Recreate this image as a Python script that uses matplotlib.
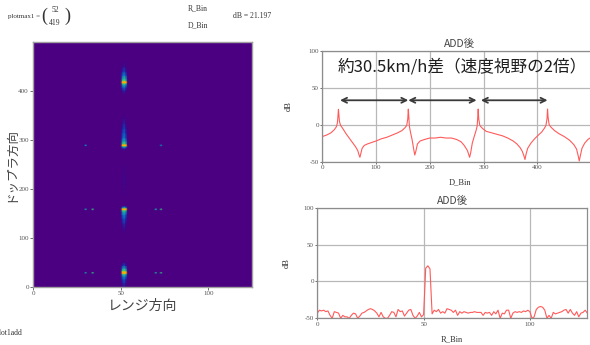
import numpy as np
import matplotlib
matplotlib.use("Agg")
import matplotlib.pyplot as plt
from matplotlib.colors import LinearSegmentedColormap

plt.rcParams['font.family'] = ['Liberation Serif', 'Noto Sans CJK JP', 'DejaVu Sans']
plt.rcParams['axes.unicode_minus'] = False

CJK = ['Noto Sans CJK JP', 'DejaVu Sans']

# ---- Doppler profile at range bin 52 (dB) ----
D_POS = [0, 8, 16, 22, 26, 28, 29, 30, 31, 32, 34, 38, 44, 50, 56, 62, 66, 68, 70, 72,
         74, 78, 84, 92, 100, 110, 120, 130, 140, 148, 154, 157, 159, 160, 161, 162, 164, 167, 170, 172,
         174, 177, 182, 190, 200, 210, 220, 230, 240, 250, 258, 264, 270, 274, 276, 279, 283, 286, 288, 289,
         290, 291, 293, 298, 305, 315, 325, 335, 345, 355, 362, 368, 372, 375, 377, 379, 382, 388, 395, 402,
         408, 413, 416, 418, 419, 420, 422, 425, 432, 440, 450, 460, 468, 473, 476, 478, 480, 483, 488, 494,
         500, 506, 511]
D_DB = [-16, -14, -11, -7, -3, 2, 10, 20.8, 12, 4, -1, -5, -12, -18, -24, -30, -35, -40, -44, -38,
        -32, -28, -26, -24, -22, -19, -17, -14, -11, -8, -4, -1, 8, 21.1, 10, -2, -10, -20, -33, -41,
        -36, -26, -22, -20, -18, -18, -17, -18, -18, -20, -23, -28, -35, -44, -38, -25, -15, -8, -2, 8,
        21.15, 8, -1, -5, -9, -11, -13, -15, -18, -22, -26, -31, -36, -42, -47, -40, -32, -25, -19, -14,
        -10, -5, -1, 8, 21.197, 10, 0, -3, -8, -12, -16, -21, -27, -33, -42, -49, -42, -32, -25, -20,
        -17, -14, -12]

# ---- Range profile at Doppler bin 419 (dB), bins 0..127 ----
R_DB = [-43, -39, -40, -39, -41, -40, -46, -50, -41, -42, -43, -50, -46, -48, -48, -50,
        -46, -43, -44, -50, -47, -43, -42, -40, -38, -37, -38, -40, -43, -48, -42, -48,
        -50, -50, -46, -41, -42, -48, -38, -41, -40, -47, -43, -39, -38, -46, -50, -47,
        -42, -48, -45, 18, 21.197, 17, -44, -39, -41, -38, -43, -41, -43, -37, -38, -39,
        -42, -39, -46, -41, -43, -41, -42, -43, -42, -42, -41, -42, -42, -42, -46, -42,
        -43, -42, -46, -41, -44, -39, -50, -43, -44, -39, -39, -50, -43, -41, -42, -41,
        -42, -40, -41, -39, -41, -50, -48, -38, -35, -34, -35, -39, -50, -46, -50, -42,
        -44, -43, -42, -41, -39, -38, -43, -38, -43, -46, -41, -48, -43, -42, -39, -43]
R_BINS = list(range(128))

# target peaks along Doppler (ambiguity images)
PEAK_D = [30, 160, 290, 419]
PEAK_R, PEAK_DB = 52, 21.197

# weak range side-lobe spots in the map: (range bin, doppler bin, dB)
SPOT_R = [30, 34, 70, 73, 30, 34, 70, 73, 30, 73]
SPOT_D = [30, 30, 30, 30, 160, 160, 160, 160, 290, 290]
SPOT_DB = [-4, -1, -3, -1, -4, -1, -3, -1, -6, -6]

W, H = 590, 345
fig = plt.figure(figsize=(W / 100, H / 100), dpi=100)
fig.patch.set_facecolor('white')


def box(l, t, r, b):
    return [l / W, 1 - b / H, (r - l) / W, (b - t) / H]


def ftext(x, y, s, **kw):
    fig.text(x / W, 1 - y / H, s, **kw)


GRAY = '#8c8c8c'
TXT = '#333333'

# ---------------- range-Doppler map ----------------
MAP_L, MAP_T, MAP_R, MAP_B = 33, 42.3, 252.3, 287
ax = fig.add_axes(box(MAP_L, MAP_T, MAP_R, MAP_B))
d_arr = np.array(D_POS, float)
r_arr = np.array(R_BINS, float)
Z = np.array(D_DB)[:, None] + np.array(R_DB)[None, :] - PEAK_DB
for r, d, v in zip(SPOT_R, SPOT_D, SPOT_DB):
    i = D_POS.index(d)
    Z[i, r] = max(Z[i, r], v)
    for j in (i - 1, i + 1):
        Z[j, r] = max(Z[j, r], v - 4)
RR, DD = np.meshgrid(r_arr, d_arr)
cmap = LinearSegmentedColormap.from_list(
    'rdmap', [(0.0, '#4b0082'), (0.14, '#231a9e'), (0.34, '#0d5cc4'),
              (0.53, '#0fa0b0'), (0.72, '#35c46c'), (0.87, '#b8e01e'),
              (1.0, '#ffb000')])
ax.set_facecolor('#4b0082')
ax.pcolormesh(RR, DD, Z, cmap=cmap, vmin=-19, vmax=4, shading='gouraud')
ax.set_xlim(0, 125)
ax.set_ylim(0, 500)
ax.set_xticks([0, 50, 100])
ax.set_yticks([0, 100, 200, 300, 400])
ax.tick_params(labelsize=5, length=2, width=0.6, colors='#555555', pad=1)
for s in ax.spines.values():
    s.set_color('#a0a0a0')
    s.set_linewidth(1.0)
ax.set_xlabel('レンジ方向', family=CJK, fontsize=10, color='#444444', labelpad=2)
ax.set_ylabel('ドップラ方向', family=CJK, fontsize=9, color='#444444')
ax.yaxis.set_label_coords((17 - MAP_L) / (MAP_R - MAP_L), 0.5)


def style_line_axes(a):
    a.set_ylim(-50, 100)
    a.set_yticks([-50, 0, 50, 100])
    a.grid(True, color='#b8b8b8', linewidth=0.9)
    a.set_axisbelow(True)
    a.tick_params(labelsize=5, length=1.5, width=0.6, colors='#555555', pad=1)
    for s in a.spines.values():
        s.set_color(GRAY)
        s.set_linewidth(0.9)


# ---------------- Doppler cut ----------------
DL, DT, DR, DB_ = 322.3, 50.7, 597, 161.7
axd = fig.add_axes(box(DL, DT, DR, DB_))
axd.plot(D_POS, D_DB, color='#ff5a5a', linewidth=0.8)
axd.set_xlim(0, 511)
axd.set_xticks([0, 100, 200, 300, 400])
style_line_axes(axd)
axd.set_title('ADD後', family=CJK, fontsize=7.5, color='#444444', pad=3)
axd.set_xlabel('D_Bin', fontsize=6, color=TXT, labelpad=6)
axd.set_ylabel('dB', fontsize=6, color=TXT)
axd.yaxis.set_label_coords((293 - DL) / (DR - DL), 0.5)
arrow_y = 33
gaps = [(3, 0), (0, 3), (5, 0)]
for (a, b), (g0, g1) in zip(zip(PEAK_D[:-1], PEAK_D[1:]), gaps):
    axd.annotate('', xy=(b - g1, arrow_y), xytext=(a + g0, arrow_y),
                 arrowprops=dict(arrowstyle='<->', color='#3a3a3a', lw=1.3,
                                 mutation_scale=9, shrinkA=0, shrinkB=0))
axd.text((338 - DL) / (DR - DL), (DB_ - 66.7) / (DB_ - DT), '約30.5km/h差（速度視野の2倍）',
         transform=axd.transAxes, family=CJK, fontsize=12, color='#1e1e1e',
         va='center', ha='left')

# ---------------- range cut ----------------
RL, RT, RRt, RB = 317.3, 207.7, 587.3, 318.3
axr = fig.add_axes(box(RL, RT, RRt, RB))
axr.plot(R_BINS, R_DB, color='#ff5a5a', linewidth=0.8)
axr.set_xlim(0, 127)
axr.set_xticks([0, 50, 100])
style_line_axes(axr)
axr.set_title('ADD後', family=CJK, fontsize=7.5, color='#444444', pad=3)
axr.set_xlabel('R_Bin', fontsize=6, color=TXT, labelpad=6)
axr.set_ylabel('dB', fontsize=6, color=TXT)
axr.yaxis.set_label_coords((291 - RL) / (RRt - RL), 0.5)

# ---------------- worksheet annotations ----------------
ftext(8, 16.5, 'plotmax1 =', fontsize=5, color=TXT, va='center')
ftext(44, 16.5, '(', fontsize=13, color=TXT, va='center', ha='center')
ftext(67, 16.5, ')', fontsize=13, color=TXT, va='center', ha='center')
ftext(55, 10.5, str(PEAK_R), fontsize=5.5, color=TXT, va='center', ha='center')
ftext(55, 23, str(PEAK_D[-1]), fontsize=5.5, color=TXT, va='center', ha='center')
ftext(188, 8, 'R_Bin', fontsize=5.5, color=TXT, va='center')
ftext(188, 25, 'D_Bin', fontsize=5.5, color=TXT, va='center')
ftext(233, 16, 'dB = %.3f' % PEAK_DB, fontsize=5.5, color=TXT, va='center')
ftext(-4, 333, 'plot1add', fontsize=5.5, color=TXT, va='center')

fig.savefig('out.png', dpi=100, facecolor='white')
